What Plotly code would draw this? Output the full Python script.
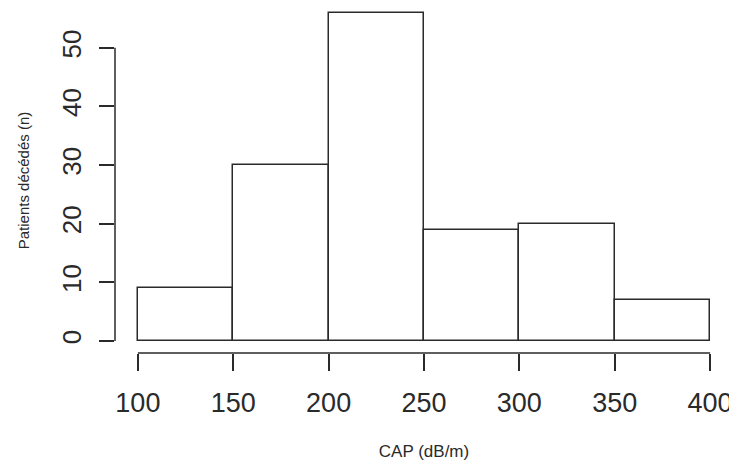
import plotly.graph_objects as go

bin_edges = [100, 150, 200, 250, 300, 350, 400]
counts = [9, 30, 56, 19, 20, 7]
x_ticks = [100, 150, 200, 250, 300, 350, 400]
y_ticks = [0, 10, 20, 30, 40, 50]
x_title = "CAP (dB/m)"
y_title = "Patients décédés (n)"

centers = [(a + b) / 2 for a, b in zip(bin_edges[:-1], bin_edges[1:])]
widths = [b - a for a, b in zip(bin_edges[:-1], bin_edges[1:])]

FONT = "Liberation Sans, Arial, Helvetica, sans-serif"
INK = "#2a2a2a"

fig = go.Figure()
fig.add_trace(go.Bar(
    x=centers, y=counts, width=widths,
    marker=dict(color="white", line=dict(color=INK, width=1.5)),
    showlegend=False, hoverinfo="skip",
))

xmin, xmax = bin_edges[0], bin_edges[-1]
xpad = 0.04 * (xmax - xmin)

# R-style axis lines spanning only the tick range
fig.add_shape(type="line", xref="x", yref="paper", x0=x_ticks[0], x1=x_ticks[-1],
              y0=0, y1=0, line=dict(color=INK, width=1.5))
fig.add_shape(type="line", xref="paper", yref="y", x0=0, x1=0,
              y0=y_ticks[0], y1=y_ticks[-1], line=dict(color=INK, width=1.5))

# page body has an 8px margin, so the figure is sized to fit the window
fig.update_layout(
    width=729, height=456,
    margin=dict(l=107, r=4, t=0, b=111, autoexpand=False),
    paper_bgcolor="white", plot_bgcolor="white",
    font=dict(family=FONT, color=INK),
    bargap=0,
    xaxis=dict(
        range=[xmin - xpad, xmax + xpad], tickvals=x_ticks,
        ticks="outside", ticklen=17, tickwidth=1.5, tickcolor=INK,
        showline=False, showgrid=False, zeroline=False, automargin=False,
        tickfont=dict(size=27, family=FONT, color=INK),
        ticklabelstandoff=9,
        title=dict(text=x_title, font=dict(size=17, family=FONT, color=INK), standoff=27),
    ),
    yaxis=dict(
        range=[-2.05, 56.8], tickvals=y_ticks,
        ticks="outside", ticklen=15, tickwidth=1.5, tickcolor=INK,
        showline=False, showgrid=False, zeroline=False, automargin=False,
        tickangle=-90,
        tickfont=dict(size=26, family=FONT, color=INK),
        ticklabelstandoff=8,
        title=dict(text=y_title, font=dict(size=15, family=FONT, color=INK), standoff=23),
    ),
)

fig.write_html("out.html")
